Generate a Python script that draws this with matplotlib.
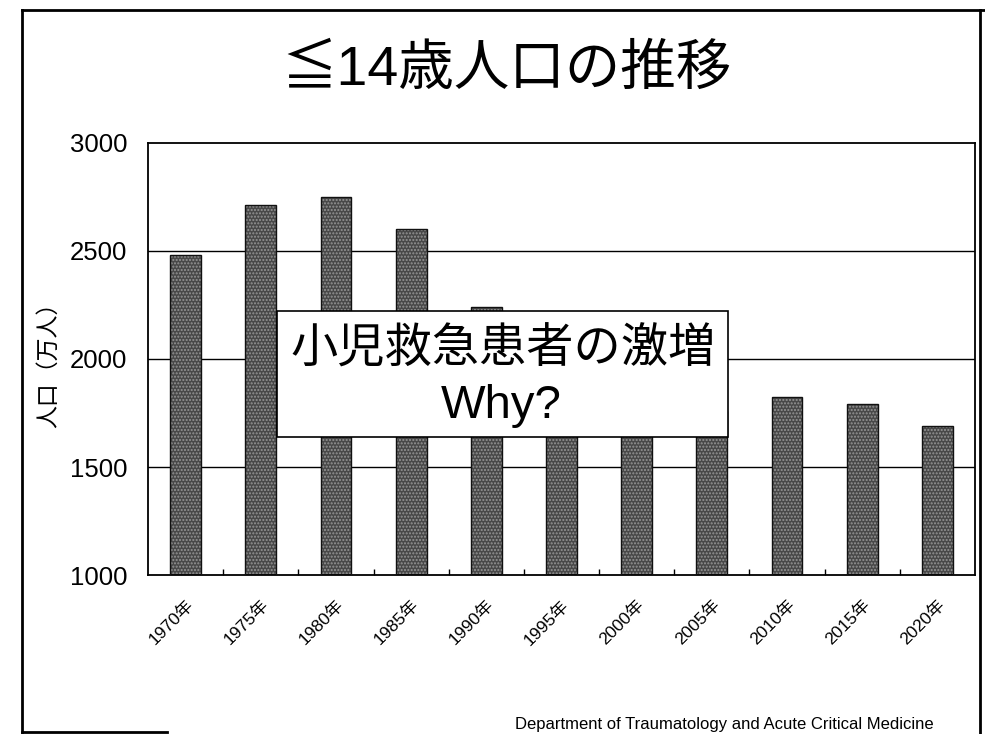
import matplotlib
matplotlib.use('Agg')
import matplotlib.pyplot as plt
from matplotlib.patches import Rectangle
from matplotlib.lines import Line2D
import numpy as np

plt.rcParams['font.family'] = ['Liberation Sans', 'Noto Sans CJK JP', 'DejaVu Sans']

# data (1995-2005 are hidden by the box, estimated)
years = ['1970年', '1975年', '1980年', '1985年', '1990年', '1995年',
         '2000年', '2005年', '2010年', '2015年', '2020年']
population = [2480, 2715, 2750, 2600, 2240, 2000, 1850, 1760, 1825, 1790, 1690]
yticks = [1000, 1500, 2000, 2500, 3000]

title = '≦14歳人口の推移'
ylabel = '人口（万人）'
callout = ['小児救急患者の激増', 'Why?']
footer = 'Department of Traumatology and Acute Critical Medicine'

fig = plt.figure(figsize=(9.85, 7.34), dpi=100)
ax = fig.add_axes([0.1503, 0.2166, 0.8395, 0.5886])

x = np.arange(len(years))
ax.bar(x, population, width=0.41, color='#484848',
       edgecolor='#959595', hatch='.....', linewidth=0, zorder=2)
ax.bar(x, population, width=0.41, fill=False, edgecolor='#111111',
       linewidth=1.0, zorder=3)

ax.set_xlim(-0.5, len(years) - 0.5)
ax.set_ylim(1000, 3000)
ax.set_yticks(yticks)
ax.tick_params(axis='y', length=0, pad=15, labelsize=18.5)
for y in yticks[1:-1]:
    ax.axhline(y, color='black', linewidth=1.0, zorder=1)

ax.set_xticks(x)
ax.set_xticklabels(years, rotation=45, ha='right', va='top',
                   rotation_mode='anchor', fontsize=12.5)
ax.tick_params(axis='x', which='major', length=0, pad=16)
ax.set_xticks(x[:-1] + 0.5, minor=True)
ax.tick_params(axis='x', which='minor', direction='in', length=4, width=1)

for s in ax.spines.values():
    s.set_linewidth(1.3)
    s.set_color('black')

ax.set_ylabel(ylabel, fontsize=16.5, labelpad=7)

fig.text(0.5142, 0.9030, title, fontsize=40, ha='center', va='center')

fig.add_artist(Rectangle((0.2812, 0.4046), 0.4579, 0.1717,
                         transform=fig.transFigure, facecolor='white',
                         edgecolor='black', linewidth=1.2, zorder=5))
fig.text(0.5112, 0.5232, callout[0], fontsize=34, ha='center', va='center',
         zorder=6)
fig.text(0.5092, 0.4305, callout[1], fontsize=34, ha='center',
         va='baseline', zorder=6)

fig.text(0.523, 0.003, footer, fontsize=12, ha='left', va='bottom')

# slide border from the scan
for xs, ys in [([0.0223, 0.0223], [0.0027, 0.9864]),
               ([0.0223, 1.0], [0.9864, 0.9864]),
               ([0.9949, 0.9949], [0.0, 0.9864]),
               ([0.0223, 0.17], [0.0027, 0.0027])]:
    fig.add_artist(Line2D(xs, ys, transform=fig.transFigure, color='black',
                          linewidth=2.0))

fig.savefig('out.png', dpi=100)
